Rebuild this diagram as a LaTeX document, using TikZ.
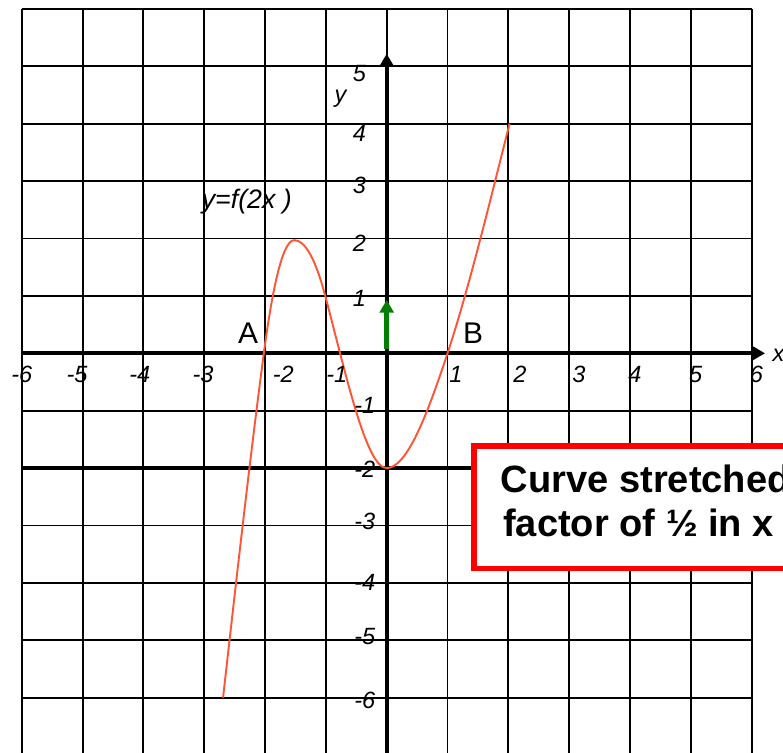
\documentclass[tikz,border=0pt]{standalone}
\usepackage{fontspec}
\setmainfont{Liberation Sans}
\usetikzlibrary{arrows.meta}

\definecolor{curvered}{RGB}{255,85,55}
\definecolor{arrowgreen}{RGB}{0,128,0}
\definecolor{boxred}{RGB}{255,0,0}

\tikzset{
    gridline/.style={line width=0.9pt},
    ticklabel/.style={font=\fontsize{11}{13}\selectfont\itshape, inner sep=0pt},
    pointlabel/.style={font=\fontsize{14}{16}\selectfont, inner sep=0pt},
    notetext/.style={font=\fontsize{17.8}{20}\selectfont\bfseries, inner sep=0pt, anchor=base west}
}

\begin{document}
\begin{tikzpicture}[x=1cm, y=0.9436cm, >={Triangle[length=6pt, width=6.5pt]}]
    \useasboundingbox (-6.357,-6.963) rectangle (6.515,6.155);

    % grid
    \foreach \i in {-6,...,6}
        \draw[gridline] (\i,-6.963) -- (\i,6);
    \foreach \j in {-6,...,6}
        \draw[gridline] (-6,\j) -- (6,\j);
    \draw[line width=1.5pt] (-6,-2) -- (6.515,-2);

    \coordinate (xstart) at (-6,0);
    \coordinate (xend) at (6.22,0);
    \coordinate (ybot) at (0,-6.963);
    \coordinate (yend) at (0,5.22);
    \draw[->, line width=2pt] (xstart) -- (xend);
    \draw[->, line width=2pt] (ybot) -- (yend);

    % y = f(2x)
    \draw[curvered, line width=0.9pt] (-2.69,-6)
        .. controls (-2.467,-3.90) and (-2.243,-1.79) .. (-2.02,0)
        .. controls (-1.853,1.33) and (-1.687,1.97) .. (-1.52,1.97)
        .. controls (-1.35,1.97) and (-1.18,1.68) .. (-1.01,1)
        .. controls (-0.673,-0.347) and (-0.337,-2) .. (0,-2)
        .. controls (0.333,-2) and (0.667,-1.067) .. (1,0)
        .. controls (1.34,1.088) and (1.68,2.572) .. (2.02,4);

    \coordinate (g0) at (0,0.08);
    \coordinate (g1) at (0,0.93);
    \draw[->, arrowgreen, line width=2.5pt] (g0) -- (g1);

    % tick labels
    \foreach \v/\p in {-6/-6.0, -5/-5.09, -4/-4.06, -3/-3.02, -2/-1.70, -1/-0.82,
                       1/1.14, 2/2.19, 3/3.16, 4/4.08, 5/5.08, 6/6.08}
        \node[ticklabel] (xt\v) at (\p,-0.37) {\v};
    \foreach \v/\p in {1/0.96, 2/1.92, 3/2.93, 4/3.83, 5/4.88}
        \node[ticklabel] (yt\v) at (-0.45,\p) {\v};
    \foreach \v/\p in {-1/-0.91, -2/-2.02, -3/-2.93, -4/-4.0, -5/-4.94, -6/-6.04}
        \node[ticklabel] (yt\v) at (-0.36,\p) {\v};

    \node[ticklabel] (xlab) at (6.44,-0.03) {x};
    \node[ticklabel] (ylab) at (-0.76,4.44) {y};
    \node[ticklabel, font=\fontsize{12.5}{14}\selectfont\itshape] (rule) at (-2.30,2.64) {y=f(2x )};

    \node[pointlabel] (A) at (-2.28,0.35) {A};
    \node[pointlabel] (B) at (1.42,0.35) {B};

    % note box
    \draw[boxred, line width=2.7pt, fill=white] (1.43,-1.61) rectangle (7.2,-3.75);
    \node[notetext] (note1) at (1.87,-2.43) {Curve stretched by scale};
    \node[notetext] (note2) at (1.91,-3.195) {factor of ½ in x direction};
\end{tikzpicture}
\end{document}
